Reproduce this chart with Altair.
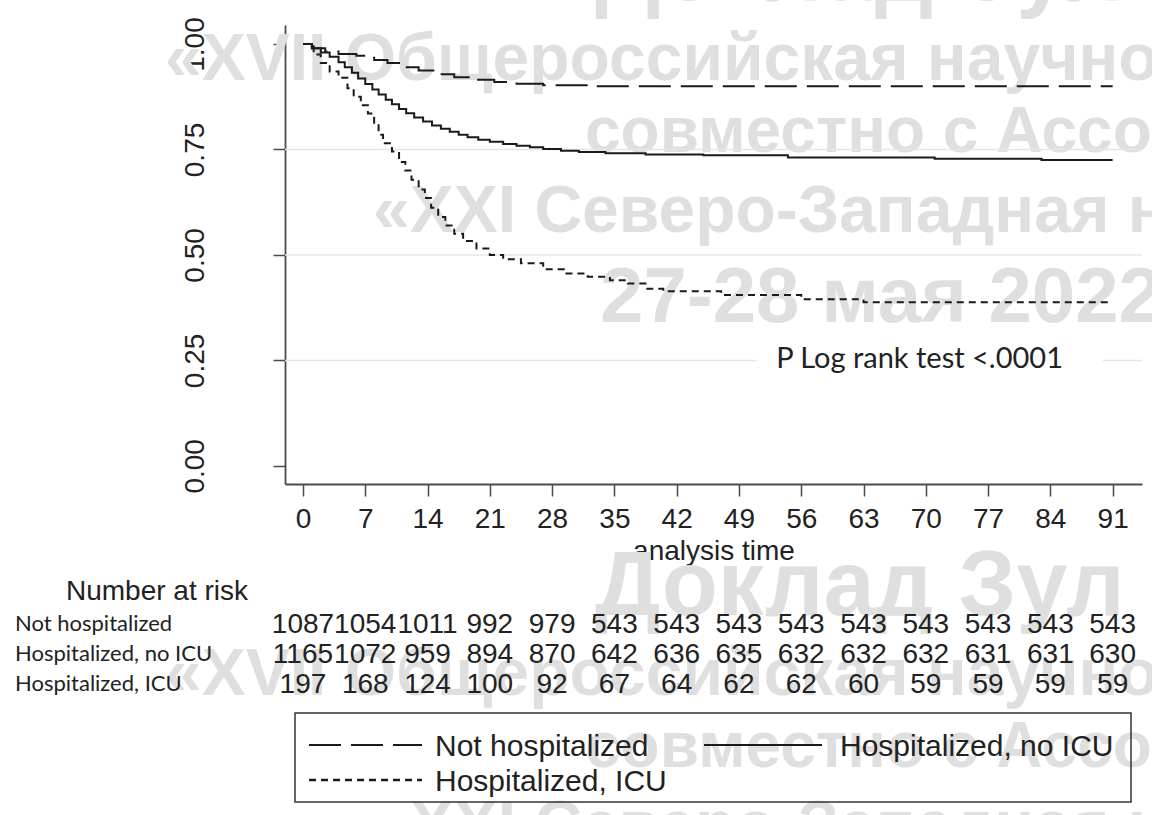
import altair as alt
import pandas as pd

# ---------------- data ----------------
groups = ["Not hospitalized", "Hospitalized, no ICU", "Hospitalized, ICU"]

nh_t = [0, 1, 2.5, 4, 6, 8, 9.5, 11, 13, 15, 17, 19, 21.5, 24, 27, 32, 91]
nh_s = [1.0, 0.99, 0.982, 0.976, 0.972, 0.962, 0.955, 0.945, 0.937, 0.928,
        0.921, 0.915, 0.91, 0.906, 0.902, 0.9, 0.9]

noicu_t = [0, 1, 2, 3, 4, 4.7, 5.5, 6.2, 7, 7.8, 8.5, 9.3, 10, 10.8, 11.6, 12.5,
           13.5, 14.5, 15.5, 16.5, 17.5, 18.5, 19.7, 21, 22.5, 24, 25.5, 27, 29,
           31, 34, 38.5, 45, 54.5, 71, 83, 91]
noicu_s = [1.0, 0.99, 0.98, 0.97, 0.957, 0.945, 0.932, 0.918, 0.905, 0.892, 0.88,
           0.868, 0.857, 0.846, 0.836, 0.826, 0.816, 0.807, 0.799, 0.792, 0.785,
           0.779, 0.773, 0.768, 0.763, 0.759, 0.755, 0.751, 0.747, 0.744, 0.741,
           0.738, 0.736, 0.731, 0.728, 0.725, 0.725]

icu_t = [0, 1.2, 2, 3, 4, 5, 5.7, 6.5, 7.3, 8, 8.5, 9, 10, 10.8, 11.5, 12.2, 13,
         13.7, 14.4, 15.2, 16, 17, 18, 19.5, 21, 22.5, 24.5, 27, 29.5, 32, 34.5,
         36.5, 38.5, 40.5, 47, 56, 63, 91]
icu_s = [1.0, 0.975, 0.955, 0.935, 0.92, 0.895, 0.875, 0.855, 0.835, 0.81, 0.785,
         0.765, 0.745, 0.72, 0.7, 0.678, 0.655, 0.635, 0.612, 0.59, 0.57, 0.55,
         0.533, 0.515, 0.5, 0.49, 0.48, 0.466, 0.456, 0.448, 0.44, 0.432, 0.42,
         0.414, 0.405, 0.395, 0.388, 0.388]

risk_times = [0, 7, 14, 21, 28, 35, 42, 49, 56, 63, 70, 77, 84, 91]
risk_nh = [1087, 1054, 1011, 992, 979, 543, 543, 543, 543, 543, 543, 543, 543, 543]
risk_noicu = [1165, 1072, 959, 894, 870, 642, 636, 635, 632, 632, 632, 631, 631, 630]
risk_icu = [197, 168, 124, 100, 92, 67, 64, 62, 62, 60, 59, 59, 59, 59]

y_ticks = [0, 0.25, 0.5, 0.75, 1.0]
grid_vals = [0.25, 0.5, 0.75]
p_text = "P Log rank test <.0001"
risk_title = "Number at risk"
x_title = "analysis time"

watermark_lines = [
    "Доклад Зул",
    "«XVII Общероссийская научно",
    "совместно с Ассо",
    "«XXI Северо-Западная н",
    "27-28 мая 2022",
]

# ---------------- layout / style ----------------
W, H = 857, 459
PAD_L, PAD_T = 285, 25
INK = "#1a1a1a"
AX = "#4a4a4a"
SANS = "Liberation Sans"
CAL = "Lato"
dashes = [[32, 10], [1, 0], [7, 5]]
widths = [2, 2, 2.6]

# watermark: (x_abs, baseline_abs, size)
wm_layout = [(595, 0, 92), (165, 80, 66), (585, 152, 64), (373, 232, 66), (600, 322, 78)]
wm_period = [0, 615]

xs = alt.Scale(domain=[-2.02, 94.3], nice=False, zero=False)
ys = alt.Scale(domain=[-0.043, 1.045], nice=False, zero=False)

x_axis = alt.Axis(values=risk_times, title=x_title, labelFontSize=28, labelFont=SANS,
                  labelColor="#222", tickSize=12, tickWidth=1.5, tickColor=AX,
                  domainColor=AX, domainWidth=1.8, labelPadding=9, grid=False,
                  labelOverlap=False, labelFlush=False, titleFont=SANS, titleFontSize=28,
                  titleFontWeight="normal", titleColor="#222", titleBaseline="alphabetic",
                  titleY=75)
y_axis = alt.Axis(values=y_ticks, format=".2f", title=None, labelFontSize=28, labelFont=SANS,
                  labelColor="#222", labelAngle=270, labelAlign="center",
                  labelBaseline="alphabetic", labelPadding=70, tickSize=12, tickWidth=1.5,
                  tickColor=AX, domainColor=AX, domainWidth=1.8, grid=False,
                  labelOverlap=False, labelFlush=False)

X = lambda f: alt.X(f, scale=xs, axis=x_axis)
Y = lambda f: alt.Y(f, scale=ys, axis=y_axis)

# ---------------- layers ----------------
layers = []

# watermark (behind everything)
for off in wm_period:
    for txt, (wx, wy, ws) in zip(watermark_lines, wm_layout):
        layers.append(
            alt.Chart(pd.DataFrame({"w": [txt]})).mark_text(
                align="left", baseline="alphabetic", font=SANS, fontWeight="bold",
                fontSize=ws, color="#dfdfdf"
            ).encode(x=alt.value(wx - PAD_L), y=alt.value(wy + off - PAD_T), text="w:N")
        )

# gridlines
layers.append(
    alt.Chart(pd.DataFrame({"g": grid_vals})).mark_rule(color="#e6e6e6", strokeWidth=1.5)
    .encode(y=Y("g:Q"))
)

# white box behind the p-value text
layers.append(
    alt.Chart(pd.DataFrame({"x0": [51.0], "x1": [89.9], "y0": [0.215], "y1": [0.285]}))
    .mark_rect(color="white")
    .encode(x=X("x0:Q"), x2="x1", y=Y("y0:Q"), y2="y1")
)
layers.append(
    alt.Chart(pd.DataFrame({"px": [69.3], "py": [0.232], "lab": [p_text]}))
    .mark_text(font=CAL, fontSize=29, color="#222", align="center", baseline="alphabetic")
    .encode(x=X("px:Q"), y=Y("py:Q"), text="lab:N")
)

# survival curves
curve_df = pd.concat([
    pd.DataFrame({"t": nh_t, "s": nh_s, "group": groups[0]}),
    pd.DataFrame({"t": noicu_t, "s": noicu_s, "group": groups[1]}),
    pd.DataFrame({"t": icu_t, "s": icu_s, "group": groups[2]}),
])
layers.append(
    alt.Chart(curve_df).mark_line(interpolate="step-after", color=INK)
    .encode(
        x=X("t:Q"), y=Y("s:Q"),
        strokeDash=alt.StrokeDash("group:N", scale=alt.Scale(domain=groups, range=dashes), legend=None),
        strokeWidth=alt.StrokeWidth("group:N", scale=alt.Scale(domain=groups, range=widths), legend=None),
    )
)

# number at risk table
risk_rows = [risk_nh, risk_noicu, risk_icu]
num_base = [633, 663, 693]
lab_base = [631, 661, 691]
for name, vals, nb, lb in zip(groups, risk_rows, num_base, lab_base):
    layers.append(
        alt.Chart(pd.DataFrame({"t": risk_times, "n": vals})).mark_text(
            font=SANS, fontSize=28, color="#222", align="center", baseline="alphabetic"
        ).encode(x=X("t:Q"), y=alt.value(nb - PAD_T), text="n:Q")
    )
    layers.append(
        alt.Chart(pd.DataFrame({"r": [name]})).mark_text(
            font=CAL, fontSize=22, color="#222", align="left", baseline="alphabetic"
        ).encode(x=alt.value(15 - PAD_L), y=alt.value(lb - PAD_T), text="r:N")
    )
layers.append(
    alt.Chart(pd.DataFrame({"r": [risk_title]})).mark_text(
        font=SANS, fontSize=28, color="#222", align="left", baseline="alphabetic"
    ).encode(x=alt.value(66 - PAD_L), y=alt.value(600 - PAD_T), text="r:N")
)

# legend (drawn box)
BOX = (295, 1131, 713, 802)
layers.append(
    alt.Chart(pd.DataFrame({"a": [0]})).mark_rect(fillOpacity=0, stroke="#333", strokeWidth=1.5)
    .encode(x=alt.value(BOX[0] - PAD_L), x2=alt.value(BOX[1] - PAD_L),
            y=alt.value(BOX[2] - PAD_T), y2=alt.value(BOX[3] - PAD_T))
)
leg_items = [  # (sample x0, x1, row y center, text x)
    (309, 422, 745, 435),
    (704, 822, 745, 840),
    (309, 422, 780, 435),
]
for name, dash, wdt, (sx0, sx1, cy, tx) in zip(groups, dashes, widths, leg_items):
    layers.append(
        alt.Chart(pd.DataFrame({"a": [0]})).mark_rule(color=INK, strokeWidth=wdt, strokeDash=dash)
        .encode(x=alt.value(sx0 - PAD_L), x2=alt.value(sx1 - PAD_L), y=alt.value(cy - PAD_T))
    )
    layers.append(
        alt.Chart(pd.DataFrame({"r": [name]})).mark_text(
            font=SANS, fontSize=30, color="#222", align="left", baseline="alphabetic"
        ).encode(x=alt.value(tx - PAD_L), y=alt.value(cy + 11 - PAD_T), text="r:N")
    )

chart = alt.layer(*layers).properties(
    width=W, height=H,
    autosize=alt.AutoSizeParams(type="none"),
    padding={"left": PAD_L, "top": PAD_T, "right": 1152 - PAD_L - W, "bottom": 815 - PAD_T - H},
    background="white",
).configure_view(stroke=None)

chart.save("out.html", embed_options={"renderer": "svg", "actions": False})
